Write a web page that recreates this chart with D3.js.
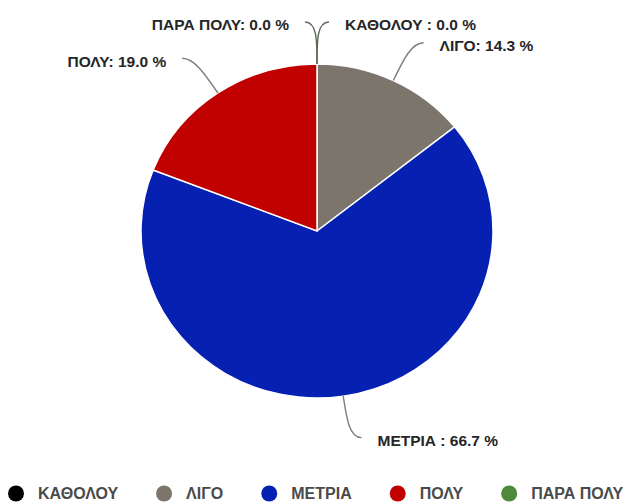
<!DOCTYPE html>
<html>
<head>
<meta charset="utf-8">
<script src="https://cdnjs.cloudflare.com/ajax/libs/d3/7.8.5/d3.min.js"></script>
<style>
  body { margin: 0; background: #fff; }
  svg { display: block; font-family: "Liberation Sans", Arial, sans-serif; }
</style>
</head>
<body>
<svg width="629" height="502"></svg>
<script>
var categories = ["ΚΑΘΟΛΟΥ", "ΛΙΓΟ", "ΜΕΤΡΙΑ", "ΠΟΛΥ", "ΠΑΡΑ ΠΟΛΥ"];
var counts = [0, 3, 14, 4, 0];
var colors = ["#000000", "#7b756b", "#0620b2", "#c10000", "#4f8a3c"];
// separators between label name and value, as in the picture
var labelSeps = [" : ", ": ", " : ", ": ", ": "];

var W = 629, H = 502;
var CX = 317, CY = 231;
var RX = 176, RY = 167;
var SY = RY / RX;   // the picture is slightly squashed vertically

var svg = d3.select("svg");
var total = d3.sum(counts);

var pie = d3.pie().sort(null).value(function(d){ return d; });
var arcs = pie(counts);
var arc = d3.arc().innerRadius(0).outerRadius(RX);

// slices
var pieG = svg.append("g")
    .attr("transform", "translate(" + CX + "," + CY + ") scale(1," + SY + ")");
pieG.selectAll("path")
    .data(arcs)
    .enter()
    .append("path")
    .attr("d", arc)
    .style("fill", function(d, i){ return colors[i]; })
    .style("stroke", "#fff")
    .style("stroke-width", function(d){ return d.value > 0 ? 1.5 : 0; });

//point on the (squashed) circle at angle a, extra px outside the rim
function pt(a, extra){
    return [CX + (RX + extra) * Math.sin(a), CY - (RY + extra) * Math.cos(a)];
}

// leader lines and labels
var fmt = d3.format(".1f");
var labG = svg.append("g");
arcs.forEach(function(d, i){
    var a = (d.startAngle + d.endAngle) / 2;
    var s = Math.sin(a);
    var side = s > 1e-6 ? 1 : (s < -1e-6 ? -1 : (i === 0 ? 1 : -1));
    var p0 = pt(a, 0);
    var c1 = pt(a, 24);
    var c2 = pt(a, 42);
    var p3 = [c2[0] + side * 12, c2[1]];
    var path = d3.path();
    path.moveTo(p0[0], p0[1]);
    path.bezierCurveTo(c1[0], c1[1], c2[0], c2[1], p3[0], p3[1]);
    labG.append("path")
        .attr("d", path.toString())
        .style("fill", "none")
        .style("stroke", d.value > 0 ? "#7d7d7d" : "#5e6b58")
        .style("stroke-width", 1.4);
    labG.append("text")
        .attr("x", p3[0] + side * 16)
        .attr("y", p3[1] + 3)
        .attr("dy", "0.35em")
        .attr("text-anchor", side > 0 ? "start" : "end")
        .style("font-size", "15.5px")
        .style("font-weight", "bold")
        .style("fill", "#262626")
        .text(categories[i] + labelSeps[i] + fmt(d.value / total * 100) + " %");
});

// legend
var legY = 493.5;
var legG = svg.append("g");
var x = 16;
categories.forEach(function(c, i){
    legG.append("circle")
        .attr("cx", x)
        .attr("cy", legY)
        .attr("r", 8)
        .style("fill", colors[i]);
    var t = legG.append("text")
        .attr("x", x + 22)
        .attr("y", legY)
        .attr("dy", "0.36em")
        .style("font-size", "16px")
        .style("font-weight", "bold")
        .style("fill", "#4a4a4a")
        .text(c);
    x += 22 + t.node().getComputedTextLength() + 46;
});
</script>
</body>
</html>
